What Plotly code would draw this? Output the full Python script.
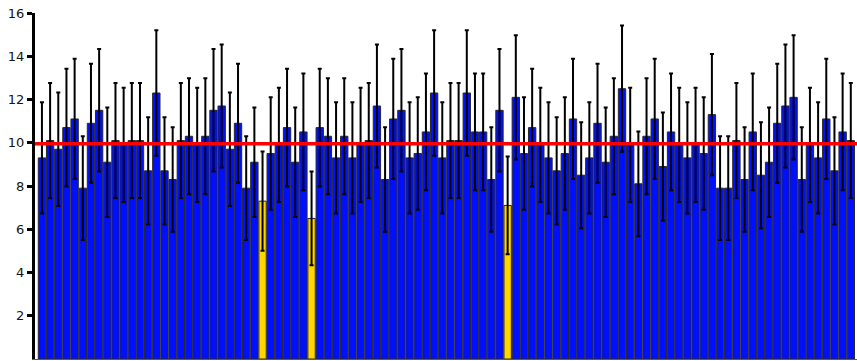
import plotly.graph_objects as go

# Sample numbers along the x axis
samples = list(range(1, 101))

# Measured values per sample
values = [
    9.3, 10.1, 9.7, 10.7, 11.1, 7.9, 10.9, 11.5, 9.1, 10.1,
    9.9, 10.1, 10.1, 8.7, 12.3, 8.7, 8.3, 10.1, 10.3, 9.9,
    10.3, 11.5, 11.7, 9.7, 10.9, 7.9, 9.1, 7.3, 9.5, 9.9,
    10.7, 9.1, 10.5, 6.5, 10.7, 10.3, 9.3, 10.3, 9.3, 9.9,
    10.1, 11.7, 8.3, 11.1, 11.5, 9.3, 9.5, 10.5, 12.3, 9.3,
    10.1, 10.1, 12.3, 10.5, 10.5, 8.3, 11.5, 7.1, 12.1, 9.5,
    10.7, 9.9, 9.3, 8.7, 9.5, 11.1, 8.5, 9.3, 10.9, 9.1,
    10.3, 12.5, 9.9, 8.1, 10.3, 11.1, 8.9, 10.5, 9.9, 9.3,
    9.9, 9.5, 11.3, 7.9, 7.9, 10.1, 8.3, 10.5, 8.5, 9.1,
    10.9, 11.7, 12.1, 8.3, 9.9, 9.3, 11.1, 8.7, 10.5, 10.1,
]

# Symmetric uncertainty per sample
errors = [
    2.57, 2.66, 2.62, 2.72, 2.78, 2.40, 2.75, 2.83, 2.53, 2.66,
    2.64, 2.66, 2.66, 2.48, 2.90, 2.48, 2.42, 2.66, 2.68, 2.64,
    2.68, 2.83, 2.84, 2.62, 2.75, 2.40, 2.53, 2.29, 2.60, 2.64,
    2.72, 2.53, 2.70, 2.17, 2.72, 2.68, 2.57, 2.68, 2.57, 2.64,
    2.66, 2.84, 2.42, 2.78, 2.83, 2.57, 2.60, 2.70, 2.90, 2.57,
    2.66, 2.66, 2.90, 2.70, 2.70, 2.42, 2.83, 2.26, 2.87, 2.60,
    2.72, 2.64, 2.57, 2.48, 2.60, 2.78, 2.45, 2.57, 2.75, 2.53,
    2.68, 2.92, 2.64, 2.42, 2.68, 2.78, 2.50, 2.70, 2.64, 2.57,
    2.64, 2.60, 2.80, 2.40, 2.40, 2.66, 2.42, 2.70, 2.45, 2.53,
    2.75, 2.84, 2.87, 2.42, 2.64, 2.57, 2.78, 2.48, 2.70, 2.66,
]

# Samples drawn in the highlight colour
highlighted = [28, 34, 58]

# Horizontal reference level
reference_level = 9.95

y_ticks = [2, 4, 6, 8, 10, 12, 14, 16]

BLUE = "rgb(0,16,255)"
GOLD = "rgb(255,214,0)"
bar_colors = [GOLD if s in highlighted else BLUE for s in samples]

fig = go.Figure()

fig.add_trace(go.Bar(
    x=samples,
    y=values,
    marker=dict(color=bar_colors, line=dict(color="rgb(40,40,40)", width=1)),
    error_y=dict(type="data", array=errors, visible=True,
                 color="black", thickness=2, width=2),
    showlegend=False,
    hoverinfo="x+y",
))

fig.add_trace(go.Scatter(
    x=[-1, 101],
    y=[reference_level, reference_level],
    mode="lines",
    line=dict(color="rgb(255,0,0)", width=3.5),
    showlegend=False,
    hoverinfo="skip",
))

fig.update_layout(
    width=857,
    height=361,
    margin=dict(l=35, r=0, t=13, b=2),
    paper_bgcolor="white",
    plot_bgcolor="white",
    bargap=0.1,
    font=dict(family="DejaVu Sans", size=13, color="rgb(20,20,20)"),
)

fig.update_xaxes(
    range=[0.15, 100.76],
    showticklabels=False,
    ticks="",
    showgrid=False,
    zeroline=False,
    showline=True,
    linecolor="rgb(90,90,90)",
    linewidth=1,
)

fig.update_yaxes(
    range=[0, 16],
    tickvals=y_ticks,
    ticks="outside",
    ticklen=5,
    tickwidth=3,
    tickcolor="black",
    showgrid=False,
    zeroline=False,
    showline=True,
    linecolor="black",
    linewidth=3,
)

fig.write_html("out.html")
